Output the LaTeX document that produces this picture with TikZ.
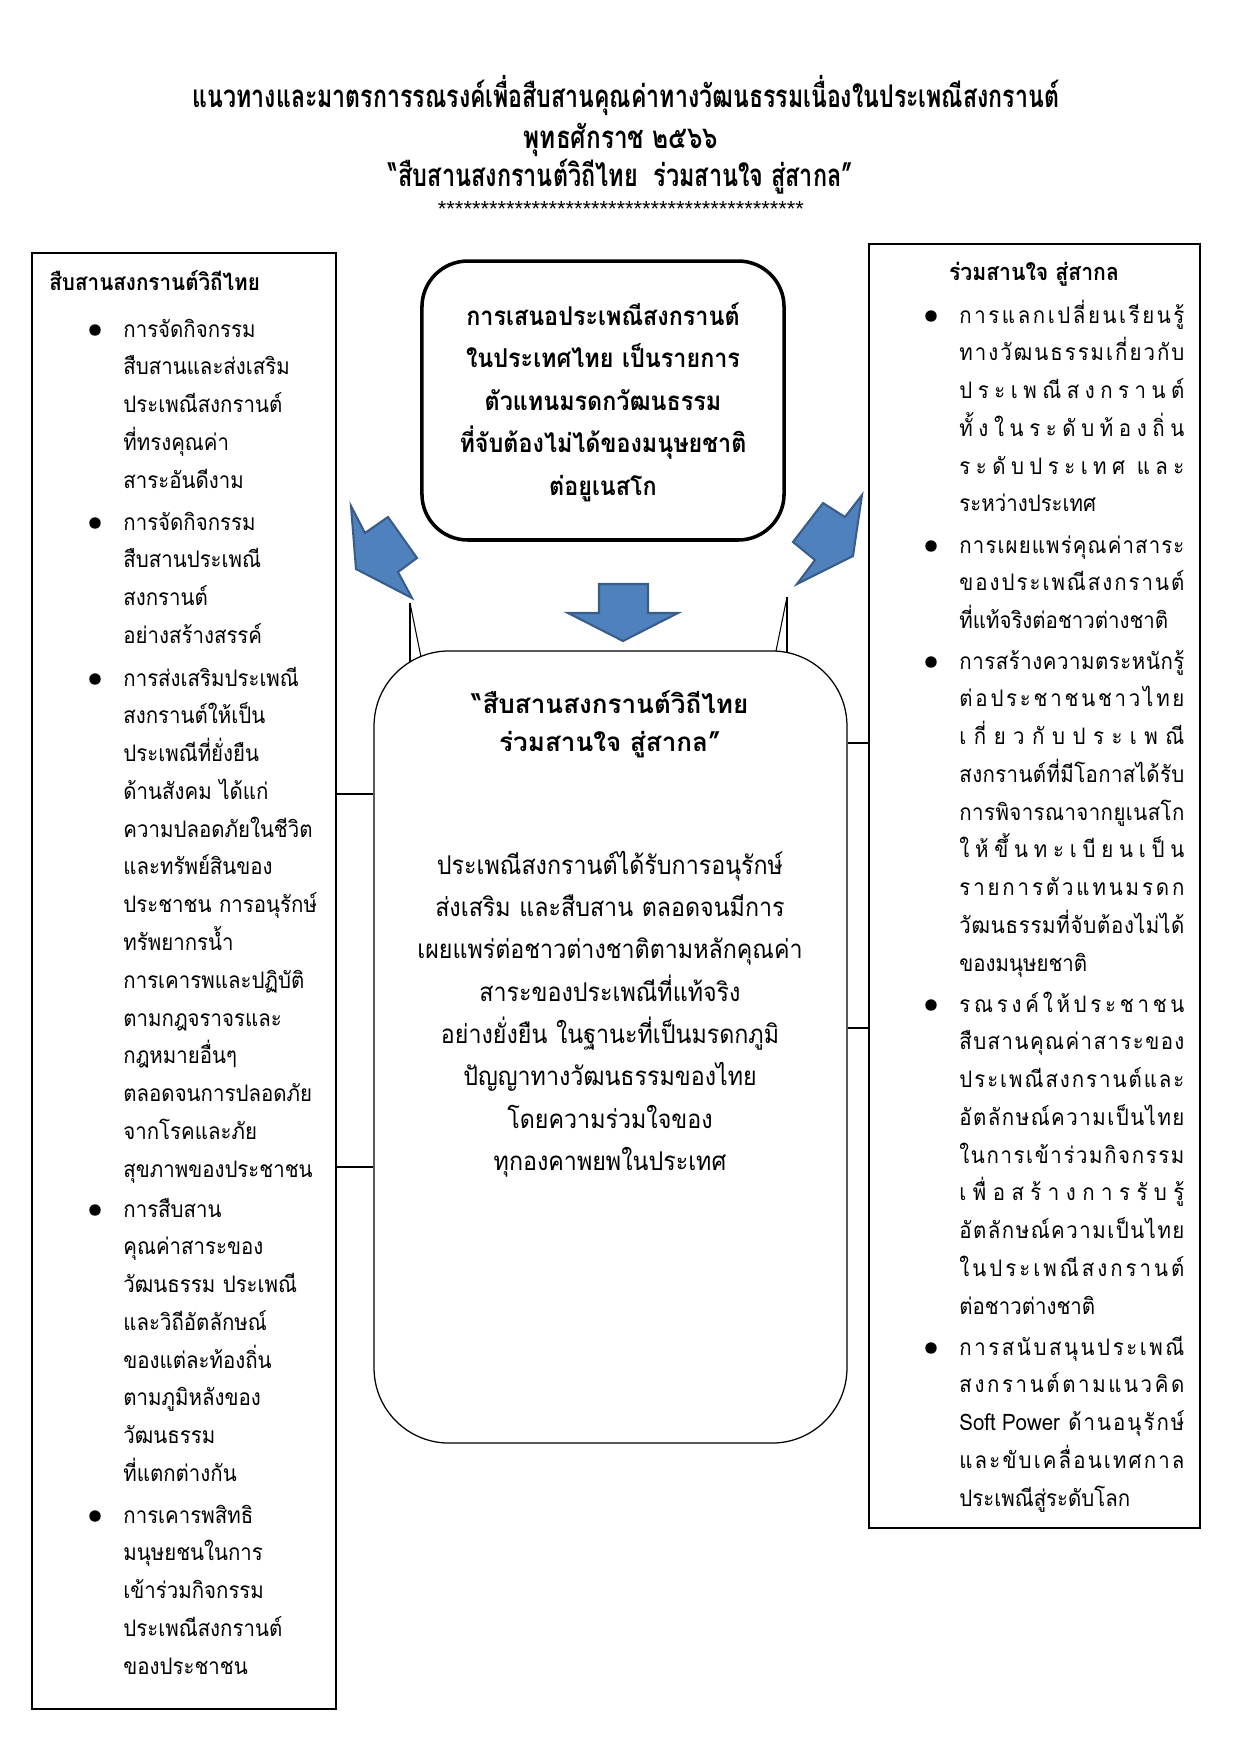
\documentclass[tikz,border=0pt]{standalone}
\usepackage{fontspec}
\usepackage{graphicx}
\newfontfamily\thai[Script=Thai]{Loma}
\newfontfamily\thain[Script=Thai,FakeStretch=0.9]{Loma}
\newfontfamily\latin{Liberation Sans}
\definecolor{arrowfill}{HTML}{4F81BD}
\definecolor{arrowline}{HTML}{385D8A}
\newlength\rw \setlength\rw{108pt}
\newsavebox\jlbox
\newcommand\jl[1]{{\spaceskip=0pt plus 1fil\relax\xspaceskip=0pt plus 1fil\relax
 \sbox\jlbox{#1}\ifdim\wd\jlbox>\rw\resizebox{\rw}{\height}{\usebox\jlbox}\else\makebox[\rw][s]{#1}\fi}}
\newcommand\ws{\hspace{3pt plus 1fil}}
\tikzset{
 sidebox/.style={draw, line width=0.8pt, inner sep=0},
 topbox/.style={draw, line width=1.7pt, rounded corners=22pt, inner sep=0},
 mainbox/.style={draw, line width=0.6pt, rounded corners=36pt, inner sep=0},
 blk/.style={fill=arrowfill, draw=arrowline, line width=1pt, line join=miter},
 para/.style={anchor=base west, inner sep=0, text width=160pt, align=left,
   font=\thain\fontsize{10.9}{18.14}\selectfont},
 rpara/.style={anchor=base west, inner sep=0, text width=108pt, align=left,
   font=\thain\fontsize{10.9}{18.14}\selectfont},
 dot/.style={circle, fill=black, inner sep=0, minimum size=5.5pt},
 link/.style={line width=0.8pt},
 thinline/.style={line width=0.5pt},
 ttl/.style={anchor=base, inner sep=0, font=\thai\bfseries\fontsize{15}{18}\selectfont},
}
\begin{document}
\begin{tikzpicture}[x=0.48pt,y=-0.48pt]
\useasboundingbox (0,0) rectangle (1241,1755);
% title
\node[ttl] (t1) at (626,107) {\scalebox{0.74}[1]{แนวทางและมาตรการรณรงค์เพื่อสืบสานคุณค่าทางวัฒนธรรมเนื่องในประเพณีสงกรานต์}};
\node[ttl] (t2) at (621,148) {\scalebox{0.78}[1]{พุทธศักราช ๒๕๖๖}};
\node[ttl] (t3) at (621,186) {\scalebox{0.75}[1]{“สืบสานสงกรานต์วิถีไทย\ \ ร่วมสานใจ สู่สากล”}};
\node[anchor=base, inner sep=0, font=\latin\fontsize{10.5}{12}\selectfont] (t4) at (621,216) {*******************************************};

% boxes
\node[sidebox, minimum width=145.92pt, minimum height=698.9pt] (lbox) at (184,981) {};
\node[sidebox, minimum width=158.9pt, minimum height=616.3pt] (rbox) at (1034.5,886) {};
\node[topbox, minimum width=173.8pt, minimum height=133.9pt] (tbox) at (603,400.5) {};
\node[mainbox, minimum width=227pt, minimum height=380.2pt] (cbox) at (610.5,1047) {};

% connectors
\draw[link] (lbox.east |- {(0,794)}) -- (cbox.west |- {(0,794)});
\draw[link] (lbox.east |- {(0,1167)}) -- (cbox.west |- {(0,1167)});
\draw[link] (cbox.east |- {(0,743)}) -- (rbox.west |- {(0,743)});
\draw[link] (cbox.east |- {(0,1028)}) -- (rbox.west |- {(0,1028)});

% callout pointers
\coordinate (pl) at (410,603);
\coordinate (pr) at (787,597);
\draw[thinline] (pl) -- (410,662);
\draw[thinline] (pl) -- (421,657);
\draw[thinline] (pr) -- (787,653);
\draw[thinline] (pr) -- (776,651);

% block arrows
\draw[blk] (599,584) -- (648,584) -- (648,613) -- (678,613) -- (623,641) -- (568,613) -- (599,613) -- cycle;
\draw[blk] (351,506) -- (365,533) -- (388,517) -- (417,558) -- (398,572) -- (412,598) -- (356,569) -- cycle;
\draw[blk] (862,495) -- (845,517) -- (823,503) -- (793,542) -- (815,560) -- (797,584) -- (853,556) -- cycle;

% top box text
\node[anchor=base, inner sep=0, text width=170pt, align=center,
  font=\thain\bfseries\fontsize{12.45}{20.4}\selectfont] (ttext) at (603,325)
 {การเสนอประเพณีสงกรานต์\\ในประเทศไทย เป็นรายการ\\ตัวแทนมรดกวัฒนธรรม\\ที่จับต้องไม่ได้ของมนุษยชาติ\\ต่อยูเนสโก};

% center box text
\node[anchor=base, inner sep=0, text width=220pt, align=center,
  font=\thai\bfseries\fontsize{12.5}{18.24}\selectfont] (ctitle) at (610,713)
 {“สืบสานสงกรานต์วิถีไทย\\ร่วมสานใจ สู่สากล”};
\node[anchor=base, inner sep=0, text width=220pt, align=center,
  font=\thain\fontsize{12.4}{20.35}\selectfont] (cbody) at (610,874)
 {ประเพณีสงกรานต์ได้รับการอนุรักษ์\\ส่งเสริม และสืบสาน ตลอดจนมีการ\\เผยแพร่ต่อชาวต่างชาติตามหลักคุณค่า\\สาระของประเพณีที่แท้จริง\\อย่างยั่งยืน ในฐานะที่เป็นมรดกภูมิ\\ปัญญาทางวัฒนธรรมของไทย\\โดยความร่วมใจของ\\ทุกองคาพยพในประเทศ};

% left box
\node[anchor=base west, inner sep=0, font=\thain\bfseries\fontsize{11}{14}\selectfont] (ltitle) at (49,290) {สืบสานสงกรานต์วิถีไทย};
\node[dot] (lb1) at (95,330) {};
\node[para] (lp1) at (123,337) {การจัดกิจกรรม\\สืบสานและส่งเสริม\\ประเพณีสงกรานต์\\ที่ทรงคุณค่า\\สาระอันดีงาม};
\node[dot] (lb2) at (95,523) {};
\node[para] (lp2) at (123,530) {การจัดกิจกรรม\\สืบสานประเพณี\\สงกรานต์\\อย่างสร้างสรรค์};
\node[dot] (lb3) at (95,679) {};
\node[para] (lp3) at (123,686) {การส่งเสริมประเพณี\\สงกรานต์ให้เป็น\\ประเพณีที่ยั่งยืน\\ด้านสังคม ได้แก่\\ความปลอดภัยในชีวิต\\และทรัพย์สินของ\\ประชาชน การอนุรักษ์\\ทรัพยากรน้ำ\\การเคารพและปฏิบัติ\\ตามกฎจราจรและ\\กฎหมายอื่นๆ\\ตลอดจนการปลอดภัย\\จากโรคและภัย\\สุขภาพของประชาชน};
\node[dot] (lb4) at (95,1210) {};
\node[para] (lp4) at (123,1217) {การสืบสาน\\คุณค่าสาระของ\\วัฒนธรรม ประเพณี\\และวิถีอัตลักษณ์\\ของแต่ละท้องถิ่น\\ตามภูมิหลังของ\\วัฒนธรรม\\ที่แตกต่างกัน};
\node[dot] (lb5) at (95,1516) {};
\node[para] (lp5) at (123,1523) {การเคารพสิทธิ\\มนุษยชนในการ\\เข้าร่วมกิจกรรม\\ประเพณีสงกรานต์\\ของประชาชน};

% right box
\node[anchor=base, inner sep=0, font=\thain\bfseries\fontsize{11.3}{14}\selectfont] (rtitle) at (1034,280) {ร่วมสานใจ สู่สากล};
\node[dot] (rb1) at (931,316) {};
\node[rpara] (rp1) at (959,323) {\jl{ก า ร แ ล ก เ ป ลี่ ย น เ รี ย น รู้}\\\jl{ท า ง วั ฒ น ธ ร ร ม เ กี่ ย ว กั บ}\\\jl{ป ร ะ เ พ ณี ส ง ก ร า น ต์}\\\jl{ทั้ ง ใ น ร ะ ดั บ ท้ อ ง ถิ่ น}\\\jl{ร ะ ดั บ ป ร ะ เ ท ศ\ws แ ล ะ}\\ระหว่างประเทศ};
\node[dot] (rb2) at (931,546) {};
\node[rpara] (rp2) at (959,553) {\jl{ก า ร เ ผ ย แ พ ร่ คุ ณ ค่ า ส า ร ะ}\\\jl{ข อ ง ป ร ะ เ พ ณี ส ง ก ร า น ต์}\\ที่แท้จริงต่อชาวต่างชาติ};
\node[dot] (rb3) at (931,662) {};
\node[rpara] (rp3) at (959,669) {\jl{ก า ร ส ร้ า ง ค ว า ม ต ร ะ ห นั ก รู้}\\\jl{ต่ อ ป ร ะ ช า ช น ช า ว ไ ท ย}\\\jl{เ กี่ ย ว กั บ ป ร ะ เ พ ณี}\\\jl{ส ง ก ร า น ต์ ที่ มี โ อ ก า ส ไ ด้ รั บ}\\\jl{ก า ร พิ จ า ร ณ า จ า ก ยู เ น ส โ ก}\\\jl{ใ ห้ ขึ้ น ท ะ เ บี ย น เ ป็ น}\\\jl{ร า ย ก า ร ตั ว แ ท น ม ร ด ก}\\\jl{วั ฒ น ธ ร ร ม ที่ จั บ ต้ อ ง ไ ม่ ไ ด้}\\ของมนุษยชาติ};
\node[dot] (rb4) at (931,1005) {};
\node[rpara] (rp4) at (959,1012) {\jl{ร ณ ร ง ค์ ใ ห้ ป ร ะ ช า ช น}\\\jl{สื บ ส า น คุ ณ ค่ า ส า ร ะ ข อ ง}\\\jl{ป ร ะ เ พ ณี ส ง ก ร า น ต์ แ ล ะ}\\\jl{อั ต ลั ก ษ ณ์ ค ว า ม เ ป็ น ไ ท ย}\\\jl{ใ น ก า ร เ ข้ า ร่ ว ม กิ จ ก ร ร ม}\\\jl{เ พื่ อ ส ร้ า ง ก า ร รั บ รู้}\\\jl{อั ต ลั ก ษ ณ์ ค ว า ม เ ป็ น ไ ท ย}\\\jl{ใ น ป ร ะ เ พ ณี ส ง ก ร า น ต์}\\ต่อชาวต่างชาติ};
\node[dot] (rb5) at (931,1348) {};
\node[rpara] (rp5) at (959,1355) {\jl{ก า ร ส นั บ ส นุ น ป ร ะ เ พ ณี}\\\jl{ส ง ก ร า น ต์ ต า ม แ น ว คิ ด}\\\jl{Soft\hspace{3pt}Power\ws ด้ า น อ นุ รั ก ษ์}\\\jl{แ ล ะ ขั บ เ ค ลื่ อ น เ ท ศ ก า ล}\\ประเพณีสู่ระดับโลก};
\end{tikzpicture}
\end{document}
